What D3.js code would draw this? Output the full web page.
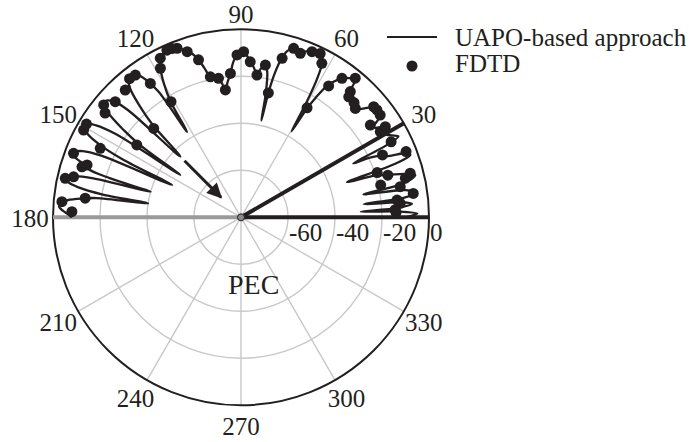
<!DOCTYPE html>
<html>
<head>
<meta charset="utf-8">
<script src="https://cdn.jsdelivr.net/npm/d3@7"></script>
<style>
  body { margin: 0; background: #fff; }
  text { font-family: 'Liberation Serif', 'Times New Roman', serif; fill: #231f20; }
</style>
</head>
<body>
<svg width="689" height="442"></svg>
<script>
// UAPO-based approach (solid line): angle in degrees, level in dB
const uapoAngles = [
  0, 1.2, 2.1, 2.7, 3.4, 4.5, 5.4, 6.1, 6.9, 7.9, 9.4, 10.6, 11.5, 12.7, 13.7, 14.9,
  16.1, 17.3, 18.3, 19.2, 20.2, 21.3, 22.5, 23.8, 24.9, 25.6, 26.4, 27.2, 28.5, 29.8,
  31.2, 32.5, 34.2, 35.6, 36.8, 38.3, 40.2, 42, 43.6, 45.3, 47.2, 49, 50.4, 52.2, 54,
  55.6, 56.8, 58, 58.8, 59.5, 60.3, 61.3, 62.5, 64.2, 66.8, 68.6, 70.4, 72.6, 74.4,
  75.6, 76.8, 77.6, 78.1, 78.7, 79.8, 80.9, 82.3, 83.6, 85.1, 86.6, 88, 89.2, 90.6,
  91.6, 92.9, 94.2, 95.6, 97, 98.2, 99.3, 100.8, 102.3, 103.8, 105.1, 106.5, 108.2,
  110.6, 112.4, 114, 115.5, 116.9, 118.4, 119.9, 121.3, 122.2, 123.3, 124.6, 126.2,
  127.9, 129.4, 130.8, 132.3, 133.6, 135, 136.5, 137.5, 138.8, 140.3, 141.7, 143.4,
  144.4, 145.1, 146.4, 147.6, 148.8, 150.3, 151.6, 152.9, 153.9, 154.9, 156.2, 157.3,
  158.6, 159.9, 161.2, 162.5, 163.4, 164.2, 165.2, 166.1, 167.2, 168.5, 169.6, 170.6,
  171.4, 172.4, 173.1, 174.3, 175.4, 176.6, 177.8, 179, 180
];
const uapoDb = [
  -10, -5, -13, -29, -13, -7, -12, -27.5, -10, -4.5, -9, -27, -12, -5.5, -3.7, -8,
  -15, -20, -32.5, -10, -3.2, -5, -12, -15, -20, -27, -10, -4.7, -7, -9,
  -8, -9, -12, -8, -6.5, -6.3, -7.5, -11, -12.8, -10, -10, -9, -3.6, -5, -6.9,
  -10, -13, -20, -26, -37.6, -24, -12, -5, -2.6, -3.2, -4.2, -5.4, -4.7, -6.5,
  -10, -17, -26, -38, -26, -17, -14.4, -16, -19, -16, -13.7, -11, -9.7, -10,
  -11, -14, -18.6, -22, -25.4, -22, -20, -19.2, -18.8, -14.5, -10.6, -7.5, -5.5,
  -3, -1.8, -2, -2.8, -4.1, -7.9, -14, -22.3, -37, -16, -9, -4.6,
  -3.3, -4.5, -8, -16, -25, -43.5, -14, -7.3, -4.5, -4.2, -7.5, -18,
  -27, -48.5, -16, -7, -3.5, -3.2, -6, -13, -24, -47.6, -15, -7,
  -4, -4.5, -9, -12, -22, -40, -15, -7, -3.4, -5, -10, -20,
  -40, -18, -13, -6, -3.5, -2.4, -4, -6.5, -8
];

// FDTD (dots)
const fdtdAngles = [
  1.8, 2.8, 5, 6.3, 7.9, 10.9, 13, 13.4, 14.6, 16, 18.2, 21.7, 23.8, 26.7, 31.6, 32.1,
  35.5, 36.3, 38.3, 39.8, 43.6, 45.4, 48.2, 49, 50.6, 54, 56.3, 58.9, 62.3, 64.2, 66.8,
  70.1, 72.7, 75.5, 77.6, 80.9, 83.6, 86.6, 89.1, 91.4, 94.2, 97, 99.2, 102.3, 105.1,
  108, 110.7, 112.3, 113.9, 116.9, 118.4, 121.2, 124.1, 126.6, 128.8, 132.3, 134.5,
  137.4, 140.7, 142.5, 145.2, 148.9, 151, 153.9, 159.1, 161.2, 162.4, 166.4, 167.5,
  173, 175, 178.1
];
const fdtdDb = [
  -14, -14.3, -12, -13.2, -6, -11, -19, -8.1, -5.6, -15, -19, -4.4, -14.2, -8.5, -10.4, -7.5,
  -12.4, -6.5, -6.3, -6.5, -12.8, -11.5, -11.2, -9.1, -3.4, -6.9, -12.8, -25.6, -6, -2.6, -3.3,
  -5.8, -4.7, -10.1, -25.8, -14.4, -19.1, -13.7, -9.5, -10.9, -18.6, -25.4, -20.1, -18.8, -10.6,
  -5.9, -3.1, -2.4, -2.2, -4.1, -7.9, -22.5, -11.2, -4.6, -4.3, -6.8, -27,
  -7.3, -4.5, -7.1, -26, -3.2, -3.4, -13.3, -3.7, -10.8, -9, -6.7, -3.4,
  -13.2, -3.5, -8
];

const angleTicks = [30, 60, 90, 120, 150, 180, 210, 240, 270, 300, 330];
const spokeAngles = [0, 30, 60, 90, 120, 150, 180, 210, 240, 270, 300, 330];
const radialTicks = [-60, -40, -20, 0];
const gridLevels = [-60, -40, -20];

// reference lines (angle) and incidence arrow (angle, from dB, to dB)
const blackRays = [0, 30];
const greyRays = [180];
const arrow = { angle: 135, from: -46, to: -68 };

const svg = d3.select('svg');
const CX = 241, CY = 217.3, R = 188;

const r = d3.scaleLinear().domain([-80, 0]).range([0, R]);
// math angle (deg, ccw from east) -> lineRadial angle (rad, cw from north)
const a = d3.scaleLinear().domain([0, 360]).range([Math.PI / 2, Math.PI / 2 - 2 * Math.PI]);
const px = (deg, db) => CX + r(db) * Math.cos(deg * Math.PI / 180);
const py = (deg, db) => CY - r(db) * Math.sin(deg * Math.PI / 180);

const g = svg.append('g').attr('transform', `translate(${CX},${CY})`);

// grid
g.selectAll('.spoke')
  .data(spokeAngles)
  .enter()
  .append('line')
  .attr('x1', 0).attr('y1', 0)
  .attr('x2', d => r(0) * Math.cos(d * Math.PI / 180))
  .attr('y2', d => -r(0) * Math.sin(d * Math.PI / 180))
  .attr('stroke', '#c8c8c8')
  .attr('stroke-width', 1.4);

g.selectAll('.ring')
  .data(gridLevels)
  .enter()
  .append('circle')
  .attr('r', d => r(d))
  .attr('fill', 'none')
  .attr('stroke', '#c8c8c8')
  .attr('stroke-width', 1.4);

g.append('circle')
  .attr('r', r(0))
  .attr('fill', 'none')
  .attr('stroke', '#231f20')
  .attr('stroke-width', 2);

// rays
g.selectAll('.gray-ray')
  .data(greyRays)
  .enter()
  .append('line')
  .attr('x1', 0).attr('y1', 0)
  .attr('x2', d => r(0) * Math.cos(d * Math.PI / 180))
  .attr('y2', d => -r(0) * Math.sin(d * Math.PI / 180))
  .attr('stroke', '#9a9a9a')
  .attr('stroke-width', 4);

g.selectAll('.black-ray')
  .data(blackRays)
  .enter()
  .append('line')
  .attr('x1', 0).attr('y1', 0)
  .attr('x2', d => r(0) * Math.cos(d * Math.PI / 180))
  .attr('y2', d => -r(0) * Math.sin(d * Math.PI / 180))
  .attr('stroke', '#231f20')
  .attr('stroke-width', 4);

// UAPO curve
const uapo = uapoAngles.map((d, i) => [d, uapoDb[i]]);
const line = d3
  .lineRadial()
  .angle(d => a(d[0]))
  .radius(d => r(d[1]))
  .curve(d3.curveCatmullRom.alpha(0.5));

g.append('path')
  .attr('d', line(uapo))
  .attr('fill', 'none')
  .attr('stroke', '#231f20')
  .attr('stroke-width', 2.3);

// FDTD dots
const fdtd = fdtdAngles.map((d, i) => [d, fdtdDb[i]]);
svg.selectAll('.dot')
  .data(fdtd)
  .enter()
  .append('circle')
  .attr('cx', d => px(d[0], d[1]))
  .attr('cy', d => py(d[0], d[1]))
  .attr('r', 5.5)
  .attr('fill', '#231f20');

// arrow
const ax1 = px(arrow.angle, arrow.from), ay1 = py(arrow.angle, arrow.from);
const ax2 = px(arrow.angle, arrow.to), ay2 = py(arrow.angle, arrow.to);
svg.append('defs')
  .append('marker')
  .attr('id', 'head')
  .attr('viewBox', '0 0 10 10')
  .attr('refX', 9).attr('refY', 5)
  .attr('markerWidth', 5.5).attr('markerHeight', 5)
  .attr('markerUnits', 'strokeWidth')
  .attr('orient', 'auto')
  .append('path')
  .attr('d', 'M0,0L10,5L0,10Z')
  .attr('fill', '#231f20');
svg.append('line')
  .attr('x1', ax1).attr('y1', ay1)
  .attr('x2', ax2).attr('y2', ay2)
  .attr('stroke', '#231f20')
  .attr('stroke-width', 3)
  .attr('marker-end', 'url(#head)');

// centre dot
g.append('circle')
  .attr('r', 3.5)
  .attr('fill', '#8a8a8a')
  .attr('stroke', '#231f20')
  .attr('stroke-width', 1);

// angle labels (kept inside the top edge)
svg.selectAll('.alabel')
  .data(angleTicks)
  .enter()
  .append('text')
  .attr('x', d => CX + 211 * Math.cos(d * Math.PI / 180))
  .attr('y', d => Math.max(23, CY + 10 - 208 * Math.sin(d * Math.PI / 180)))
  .attr('text-anchor', 'middle')
  .attr('font-size', 25)
  .text(d => d);

// radial labels
svg.selectAll('.rlabel')
  .data(radialTicks)
  .enter()
  .append('text')
  .attr('x', d => CX + r(d) + 1)
  .attr('y', CY + 24)
  .attr('font-size', 25)
  .text(d => d);

svg.append('text')
  .attr('x', 228)
  .attr('y', 294)
  .attr('font-size', 28)
  .text('PEC');

// legend
const legend = svg.append('g');
legend.append('line')
  .attr('x1', 387).attr('x2', 437)
  .attr('y1', 37).attr('y2', 37)
  .attr('stroke', '#231f20')
  .attr('stroke-width', 2);
legend.append('text')
  .attr('x', 455).attr('y', 46)
  .attr('font-size', 25)
  .text('UAPO-based approach');
legend.append('circle')
  .attr('cx', 412).attr('cy', 66)
  .attr('r', 5.5)
  .attr('fill', '#231f20');
legend.append('text')
  .attr('x', 455).attr('y', 72)
  .attr('font-size', 25)
  .text('FDTD');
</script>
</body>
</html>
